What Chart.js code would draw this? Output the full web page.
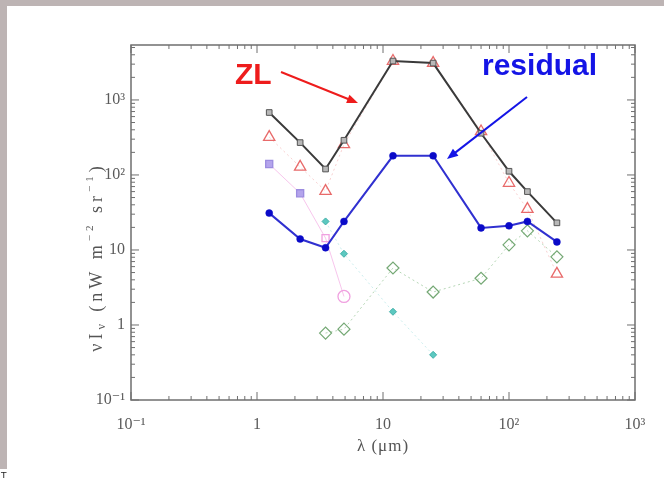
<!DOCTYPE html>
<html>
<head>
<meta charset="utf-8">
<script src="https://cdn.jsdelivr.net/npm/chart.js@4.4.0/dist/chart.umd.min.js"></script>
<style>
  html, body { margin: 0; padding: 0; background: #fff; }
  #wrap { width: 664px; height: 478px; position: relative; }
</style>
</head>
<body>
<div id="wrap"><canvas id="sed" width="664" height="478"></canvas></div>
<script>
// DIRBE band centres (um) and brightness in nW m^-2 sr^-1
const bands = [1.25, 2.2, 3.5, 4.9, 12, 25, 60, 100, 140, 240];
const totalSky = [680, 270, 120, 290, 3300, 3100, 360, 112, 60, 23];
const zodiacal = [320, 128, 61, 255, 3300, 3100, 380, 78, 35, 4.8];
const residual = [31, 14, 10.7, 24, 180, 180, 19.7, 21, 24, 12.8];
const starBands = [1.25, 2.2, 3.5, 4.9];
const starlight = [140, 57, 14.4, 2.4];
const ismBands = [3.5, 4.9, 12, 25];
const ismLight = [24, 8.9, 1.5, 0.4];
const dustBands = [3.5, 4.9, 12, 25, 60, 100, 140, 240];
const galDust = [0.78, 0.88, 5.75, 2.75, 4.2, 11.7, 18, 8.1];

const decades = [0.1, 1, 10, 100, 1000];
const xTickLabels = ['10⁻¹', '1', '10', '10²', '10³'];
const yTickLabels = ['10⁻¹', '1', '10', '10²', '10³'];

const serif = '"Liberation Serif", "DejaVu Serif", serif';
const axisGray = '#6f6f6f';

function pts(xs, ys) {
    return xs.map((x, i) => ({ x: x, y: ys[i] }));
}

function drawArrow(ctx, x1, y1, x2, y2, color) {
    const a = Math.atan2(y2 - y1, x2 - x1);
    ctx.save();
    ctx.strokeStyle = color;
    ctx.fillStyle = color;
    ctx.lineWidth = 2;
    ctx.beginPath();
    ctx.moveTo(x1, y1);
    ctx.lineTo(x2 - 8 * Math.cos(a), y2 - 8 * Math.sin(a));
    ctx.stroke();
    ctx.beginPath();
    ctx.moveTo(x2, y2);
    ctx.lineTo(x2 - 11 * Math.cos(a) + 4.5 * Math.sin(a), y2 - 11 * Math.sin(a) - 4.5 * Math.cos(a));
    ctx.lineTo(x2 - 11 * Math.cos(a) - 4.5 * Math.sin(a), y2 - 11 * Math.sin(a) + 4.5 * Math.cos(a));
    ctx.closePath();
    ctx.fill();
    ctx.restore();
}

// frame, inward ticks on all four sides, axis titles and the labels
const decor = {
    id: 'decor',
    beforeDraw(chart) {
        const ctx = chart.ctx;
        ctx.save();
        ctx.fillStyle = '#fff';
        ctx.fillRect(0, 0, chart.width, chart.height);
        ctx.fillStyle = '#bdb4b4';
        ctx.fillRect(0, 0, chart.width, 6);
        ctx.fillRect(0, 0, 7, 469);
        ctx.fillStyle = '#222';
        ctx.font = '9px "DejaVu Sans", sans-serif';
        ctx.fillText('T', 1, 479);
        ctx.restore();
    },
    afterDraw(chart) {
        const ctx = chart.ctx;
        const area = chart.chartArea;
        const xs = chart.scales.x;
        const ys = chart.scales.y;
        ctx.save();
        ctx.strokeStyle = axisGray;
        ctx.lineWidth = 1.5;
        ctx.strokeRect(area.left, area.top, area.right - area.left, area.bottom - area.top);

        ctx.lineWidth = 1;
        ctx.beginPath();
        decades.forEach(d => {
            for (let k = 1; k <= 9; k++) {
                const v = d * k;
                const len = k === 1 ? 8 : 4;
                if (v >= xs.min && v <= xs.max) {
                    const px = xs.getPixelForValue(v);
                    ctx.moveTo(px, area.bottom); ctx.lineTo(px, area.bottom - len);
                    ctx.moveTo(px, area.top); ctx.lineTo(px, area.top + len);
                }
                if (v >= ys.min && v <= ys.max) {
                    const py = ys.getPixelForValue(v);
                    ctx.moveTo(area.left, py); ctx.lineTo(area.left + len, py);
                    ctx.moveTo(area.right, py); ctx.lineTo(area.right - len, py);
                }
            }
        });
        ctx.stroke();

        // x title
        ctx.fillStyle = '#555';
        ctx.font = '17px ' + serif;
        ctx.textAlign = 'center';
        ctx.textBaseline = 'middle';
        ctx.letterSpacing = '1px';
        ctx.fillText('λ (μm)', (area.left + area.right) / 2, 447);

        // y title with sub/superscripts, spaced out like the tick labels
        ctx.letterSpacing = '4px';
        const parts = [
            { t: 'νI', f: '18px ' + serif, dy: 0 },
            { t: 'ν', f: '12px ' + serif, dy: 5 },
            { t: ' (nW m', f: '18px ' + serif, dy: 0 },
            { t: '−2', f: '11px ' + serif, dy: -7 },
            { t: ' sr', f: '18px ' + serif, dy: 0 },
            { t: '−1', f: '11px ' + serif, dy: -7 },
            { t: ')', f: '18px ' + serif, dy: 0 }
        ];
        let total = 0;
        parts.forEach(p => { ctx.font = p.f; p.w = ctx.measureText(p.t).width; total += p.w; });
        ctx.translate(97, 257);
        ctx.rotate(-Math.PI / 2);
        ctx.textAlign = 'left';
        let cx = -total / 2;
        parts.forEach(p => {
            ctx.font = p.f;
            ctx.fillText(p.t, cx, p.dy);
            cx += p.w;
        });
        ctx.restore();

        // component labels
        ctx.save();
        ctx.font = 'bold 30px "Liberation Sans", Arial, sans-serif';
        ctx.textBaseline = 'alphabetic';
        ctx.fillStyle = '#ee1c1c';
        ctx.fillText('ZL', 235, 84);
        ctx.fillStyle = '#1414e6';
        ctx.fillText('residual', 482, 75);
        ctx.restore();
        drawArrow(ctx, 281, 72, 358, 103, '#ee1c1c');
        drawArrow(ctx, 527, 97, 447, 159, '#1414e6');
    }
};

new Chart(document.getElementById('sed'), {
    type: 'line',
    data: {
        datasets: [
            {
                label: 'total',
                data: pts(bands, totalSky),
                borderColor: '#3a3a3a',
                borderWidth: 2,
                pointStyle: 'rect',
                pointRadius: 4,
                pointBackgroundColor: '#b8b8b8',
                pointBorderColor: '#555',
                pointBorderWidth: 1
            },
            {
                label: 'residual',
                data: pts(bands, residual),
                borderColor: '#3030d0',
                borderWidth: 2,
                pointStyle: 'circle',
                pointRadius: 3.5,
                pointBackgroundColor: '#0a0ac8',
                pointBorderColor: '#0a0ac8',
                pointBorderWidth: 0.5
            },
            {
                label: 'ZL',
                data: pts(bands, zodiacal),
                borderColor: 'rgba(240,150,150,0.45)',
                borderWidth: 1,
                borderDash: [2, 3],
                pointStyle: 'triangle',
                pointRadius: 6.5,
                pointBackgroundColor: 'rgba(255,255,255,0)',
                pointBorderColor: '#e86a6a',
                pointBorderWidth: 1.3
            },
            {
                label: 'stars',
                data: pts(starBands, starlight),
                borderColor: 'rgba(240,150,220,0.55)',
                borderWidth: 1,
                pointStyle: ['rect', 'rect', 'rect', 'circle'],
                pointRadius: [5, 5, 5, 6],
                pointBackgroundColor: ['#b4a4ec', '#b4a4ec', 'rgba(255,255,255,0)', 'rgba(255,255,255,0)'],
                pointBorderColor: ['#9c8ce0', '#9c8ce0', '#f0a0e0', '#f0a0e0'],
                pointBorderWidth: 1.3
            },
            {
                label: 'ISM',
                data: pts(ismBands, ismLight),
                borderColor: 'rgba(150,220,220,0.5)',
                borderWidth: 1,
                borderDash: [2, 3],
                pointStyle: 'rectRot',
                pointRadius: 3.5,
                pointBackgroundColor: '#5cc8c0',
                pointBorderColor: '#40b0a8',
                pointBorderWidth: 1
            },
            {
                label: 'dust',
                data: pts(dustBands, galDust),
                borderColor: 'rgba(120,180,120,0.55)',
                borderWidth: 1,
                borderDash: [2, 3],
                pointStyle: 'rectRot',
                pointRadius: 6,
                pointBackgroundColor: 'rgba(255,255,255,0)',
                pointBorderColor: '#74a874',
                pointBorderWidth: 1.2
            }
        ]
    },
    options: {
        responsive: false,
        animation: false,
        devicePixelRatio: 1,
        layout: { padding: { top: 45, right: 29, left: 0, bottom: 0 } },
        plugins: {
            legend: { display: false },
            tooltip: { enabled: false }
        },
        elements: { line: { tension: 0 } },
        scales: {
            x: {
                type: 'logarithmic',
                min: 0.1,
                max: 1000,
                border: { display: false },
                grid: { display: false, drawTicks: false },
                afterBuildTicks: (s) => { s.ticks = decades.map(v => ({ value: v })); },
                afterFit: (s) => { s.height = 78; },
                ticks: {
                    padding: 15,
                    maxRotation: 0,
                    color: '#5a5a5a',
                    font: { family: serif, size: 16 },
                    callback: (v) => xTickLabels[decades.indexOf(v)]
                }
            },
            y: {
                type: 'logarithmic',
                min: 0.1,
                max: 5400,
                border: { display: false },
                grid: { display: false, drawTicks: false },
                afterBuildTicks: (s) => { s.ticks = decades.map(v => ({ value: v })); },
                afterFit: (s) => { s.width = 131; },
                ticks: {
                    padding: 6,
                    color: '#5a5a5a',
                    font: { family: serif, size: 16 },
                    callback: (v) => yTickLabels[decades.indexOf(v)]
                }
            }
        }
    },
    plugins: [decor]
});
</script>
</body>
</html>
